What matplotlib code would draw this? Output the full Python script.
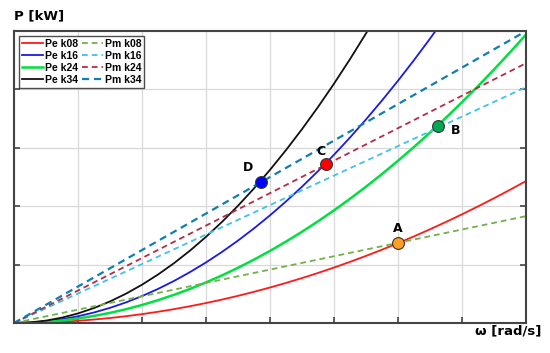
import matplotlib
matplotlib.use("Agg")
import matplotlib.pyplot as plt

# speed samples (grid units) and power readings
w = [0, 0.25, 0.5, 0.75, 1, 1.25, 1.5, 1.75, 2, 2.25, 2.5, 2.75, 3, 3.25, 3.5, 3.75,
     4, 4.25, 4.5, 4.75, 5, 5.25, 5.5, 5.75, 6, 6.25, 6.5, 6.75, 7, 7.25, 7.5, 7.75, 8]
pe_k08 = [0, 0.0024, 0.0095, 0.0214, 0.038, 0.0594, 0.0855, 0.1164, 0.152, 0.1924, 0.2375,
          0.2874, 0.342, 0.4014, 0.4655, 0.5344, 0.608, 0.6864, 0.7695, 0.8574, 0.95, 1.0474,
          1.1495, 1.2564, 1.368, 1.4844, 1.6055, 1.7314, 1.862, 1.9974, 2.1375, 2.2824, 2.432]
pe_k16 = [0, 0.0072, 0.0288, 0.0649, 0.1153, 0.1802, 0.2594, 0.3531, 0.4612, 0.5837, 0.7206,
          0.872, 1.0377, 1.2178, 1.4124, 1.6214, 1.8448, 2.0826, 2.3348, 2.6015, 2.8825, 3.178,
          3.4878, 3.8121, 4.1508, 4.5039, 4.8714, 5.2533, 5.6497, 6.0605, 6.4856, 6.9252, 7.3792]
pe_k24 = [0, 0.0048, 0.0193, 0.0434, 0.0772, 0.1206, 0.1737, 0.2364, 0.3088, 0.3908, 0.4825,
          0.5838, 0.6948, 0.8154, 0.9457, 1.0856, 1.2352, 1.3944, 1.5633, 1.7418, 1.93, 2.1278,
          2.3353, 2.5524, 2.7792, 3.0156, 3.2617, 3.5174, 3.7828, 4.0578, 4.3425, 4.6368, 4.9408]
pe_k34 = [0, 0.0103, 0.041, 0.0923, 0.164, 0.2563, 0.369, 0.5023, 0.656, 0.8303, 1.025,
          1.2403, 1.476, 1.7323, 2.009, 2.3063, 2.624, 2.9623, 3.321, 3.7003, 4.1, 4.5203,
          4.961, 5.4223, 5.904, 6.41, 6.93, 7.47, 8.04, 8.62, 9.22, 9.85, 10.5]

w_lin = [0, 8]
pm_k08 = [0, 1.83]
pm_k16 = [0, 4.04]
pm_k24 = [0, 4.45]
pm_k34 = [0, 5.0]

pt_labels = ["A", "B", "C", "D"]
pt_w = [6.0, 6.625, 4.875, 3.86]
pt_p = [1.37, 3.37, 2.73, 2.42]
pt_colors = ["#ffa020", "#00a84f", "#ff0000", "#0000ff"]
pt_text_off = [(0, 0.25), (0.28, -0.08), (-0.08, 0.2), (-0.2, 0.24)]

fig = plt.figure(figsize=(5.5, 3.53), dpi=100)
ax = fig.add_axes([0.0255, 0.085, 0.931, 0.827])

lw = 1.3
dash = (0, (3.2, 2.2))
l1, = ax.plot(w, pe_k08, color="#ff1a1a", lw=lw, label="Pe k08")
l2, = ax.plot(w, pe_k16, color="#1a1ae6", lw=lw, label="Pe k16")
l3, = ax.plot(w, pe_k24, color="#00e040", lw=1.8, label="Pe k24")
l4, = ax.plot(w, pe_k34, color="#111111", lw=lw, label="Pe k34")
m1, = ax.plot(w_lin, pm_k08, color="#74b04c", lw=lw, ls=dash, label="Pm k08")
m2, = ax.plot(w_lin, pm_k16, color="#3ec4e6", lw=lw, ls=dash, label="Pm k16")
m3, = ax.plot(w_lin, pm_k24, color="#b42c48", lw=lw, ls=dash, label="Pm k24")
m4, = ax.plot(w_lin, pm_k34, color="#0f7fb0", lw=1.6, ls=dash, label="Pm k34")

for lab, x, y, c, off in zip(pt_labels, pt_w, pt_p, pt_colors, pt_text_off):
    ax.plot([x], [y], "o", ms=8.5, color=c, mec="#333333", mew=0.8, zorder=5)
    ax.text(x + off[0], y + off[1], lab, fontsize=9, fontweight="bold",
            ha="center", va="center", zorder=6)

ax.set_xlim(0, 8)
ax.set_ylim(0, 5)
ax.set_xticks(range(0, 9))
ax.set_yticks(range(0, 6))
ax.set_xticklabels([])
ax.set_yticklabels([])
ax.grid(True, color="#d8d8d8", lw=0.9)
ax.set_axisbelow(True)
ax.tick_params(direction="in", length=4, width=1.2, color="#444444",
               top=False, right=True, left=True, bottom=True)
for s in ax.spines.values():
    s.set_color("#444444")
    s.set_linewidth(1.5)

leg = ax.legend(handles=[l1, l2, l3, l4, m1, m2, m3, m4], ncol=2, loc="upper left",
                prop={"family": "Liberation Sans", "weight": "bold", "size": 7.5},
                frameon=True, fancybox=False,
                edgecolor="#222222", handlelength=2.0, handletextpad=0.2,
                columnspacing=0.4, labelspacing=0.2, borderpad=0.25,
                borderaxespad=0.5)
leg.get_frame().set_linewidth(1.0)

fig.text(0.026, 0.955, "P [kW]", fontsize=9.5, fontweight="bold", ha="left", va="center")
fig.text(0.985, 0.062, "ω [rad/s]", fontsize=9.5, fontweight="bold", ha="right", va="center")

fig.savefig("out.png", dpi=100)
